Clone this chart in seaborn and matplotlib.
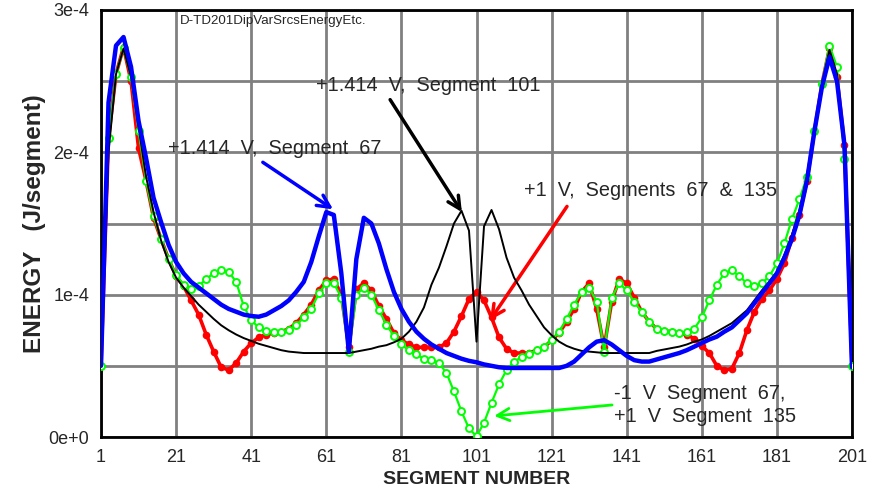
import numpy as np
import pandas as pd
import matplotlib
matplotlib.use("Agg")
import matplotlib.pyplot as plt
import seaborn as sns

# ---------------- data (energy in units of 1e-5 J/segment) ----------------
segments = list(range(1, 202, 2))

black_src101 = [5.0, 20.0, 25.5, 27.3, 25.3, 21.8, 18.3, 15.8, 13.8, 12.3,
                11.2, 10.5, 9.9, 9.3, 8.8, 8.3, 7.85, 7.5, 7.2, 6.95,
                6.75, 6.55, 6.4, 6.25, 6.1, 6.0, 5.95, 5.9, 5.9, 5.9,
                5.9, 5.9, 5.9, 5.9, 6.0, 6.1, 6.2, 6.35, 6.45, 6.65,
                6.9, 7.4, 8.1, 9.1, 10.7, 11.9, 13.4, 15.0, 15.9, 14.5,
                6.7, 14.8, 15.95, 14.6, 12.6, 11.2, 10.3, 9.3, 8.5, 7.7,
                7.15, 6.7, 6.4, 6.2, 6.05, 6.0, 5.95, 5.9, 5.9, 5.9,
                5.9, 5.9, 5.9, 5.9, 6.05, 6.15, 6.25, 6.35, 6.5, 6.7,
                6.85, 7.1, 7.4, 7.7, 8.0, 8.45, 8.9, 9.6, 10.3, 10.9,
                11.6, 12.8, 14.2, 15.9, 18.3, 21.5, 24.8, 27.2, 25.5, 20.0,
                5.0]

blue_src67 = [5.0, 23.5, 27.5, 28.1, 26.0, 22.2, 19.6, 16.8, 15.1, 13.5,
              12.3, 11.5, 10.9, 10.5, 10.1, 9.7, 9.3, 9.0, 8.8, 8.6,
              8.5, 8.45, 8.6, 8.9, 9.2, 9.6, 10.2, 10.9, 12.3, 14.1,
              15.8, 15.6, 11.5, 6.0, 12.5, 15.4, 15.0, 13.6, 11.8, 10.2,
              9.0, 8.1, 7.4, 6.9, 6.5, 6.2, 5.9, 5.7, 5.5, 5.35,
              5.25, 5.1, 5.0, 4.9, 4.85, 4.85, 4.85, 4.85, 4.85, 4.85,
              4.85, 4.85, 5.0, 5.3, 5.8, 6.3, 6.7, 6.8, 6.5, 6.1,
              5.7, 5.4, 5.3, 5.3, 5.45, 5.6, 5.75, 5.9, 6.1, 6.35,
              6.6, 6.85, 7.05, 7.4, 7.7, 8.2, 8.7, 9.4, 10.1, 10.8,
              11.5, 12.6, 13.9, 15.6, 18.0, 21.5, 24.6, 26.7, 25.0, 20.5,
              4.9]

red_src67_135 = [5.0, 21.0, 25.5, 27.4, 25.0, 20.3, 18.0, 15.4, 13.9, 12.5,
                 11.3, 10.6, 9.6, 8.6, 7.2, 6.0, 4.9, 4.7, 5.2, 6.0,
                 6.6, 7.0, 7.2, 7.3, 7.4, 7.6, 8.0, 8.6, 9.3, 10.3,
                 11.0, 11.1, 10.0, 6.3, 10.4, 10.8, 10.3, 9.2, 8.3, 7.3,
                 6.8, 6.5, 6.3, 6.3, 6.3, 6.3, 6.6, 7.4, 8.5, 9.7,
                 10.2, 9.6, 8.4, 7.0, 6.2, 5.9, 5.9, 5.9, 6.1, 6.3,
                 6.8, 7.3, 8.1, 9.0, 10.2, 10.8, 9.0, 6.3, 9.5, 11.1,
                 10.8, 9.8, 8.8, 8.1, 7.6, 7.45, 7.4, 7.3, 7.2, 6.9,
                 6.4, 5.9, 5.0, 4.7, 4.8, 5.9, 7.5, 8.8, 9.7, 10.3,
                 11.1, 12.2, 14.0, 15.6, 18.0, 21.5, 24.8, 27.3, 25.3, 20.5,
                 5.0]

green_m67_p135 = [5.0, 21.0, 25.5, 27.3, 25.3, 21.5, 18.0, 15.5, 13.9, 12.5,
                  11.4, 10.7, 10.4, 10.6, 11.1, 11.5, 11.7, 11.6, 10.9, 9.2,
                  8.2, 7.7, 7.45, 7.4, 7.4, 7.5, 7.85, 8.4, 9.0, 10.1,
                  10.8, 10.8, 9.8, 6.0, 10.0, 10.5, 10.0, 8.9, 7.9, 7.1,
                  6.5, 6.1, 5.8, 5.5, 5.4, 5.2, 4.5, 3.2, 1.8, 0.6,
                  0.05, 1.0, 2.4, 3.7, 4.7, 5.3, 5.6, 5.85, 6.1, 6.35,
                  6.8, 7.4, 8.3, 9.3, 10.2, 10.5, 9.5, 6.0, 9.8, 10.8,
                  10.3, 9.5, 8.8, 8.1, 7.6, 7.45, 7.4, 7.3, 7.4, 7.6,
                  8.4, 9.6, 10.7, 11.5, 11.7, 11.3, 10.8, 10.6, 10.8, 11.3,
                  12.2, 13.6, 15.3, 16.7, 18.3, 21.5, 24.8, 27.5, 26.0, 19.5,
                  5.0]

x_ticks = list(range(1, 202, 20))
y_tick_values = [0, 1e-4, 2e-4, 3e-4]
y_tick_labels = ["0e+0", "1e-4", "2e-4", "3e-4"]

scale = 1e-5
df = pd.DataFrame({
    "segment": segments,
    "black": np.array(black_src101) * scale,
    "blue": np.array(blue_src67) * scale,
    "red": np.array(red_src67_135) * scale,
    "green": np.array(green_m67_p135) * scale,
})

# ---------------- plot ----------------
sns.set_style("white")
plt.rcParams["font.family"] = ["Liberation Sans", "DejaVu Sans"]

fig = plt.figure(figsize=(8.69, 4.95), dpi=100)
ax = fig.add_axes([101 / 869, 58 / 495, 751 / 869, 427 / 495])

sns.lineplot(data=df, x="segment", y="red", ax=ax, color="#ff0000", lw=2.6,
             marker="o", markersize=5.5, markeredgewidth=0, markerfacecolor="#ff0000", zorder=3)
sns.lineplot(data=df, x="segment", y="green", ax=ax, color="#00ff00", lw=1.6,
             marker="o", markersize=5, markeredgewidth=1.4, markerfacecolor="white",
             markeredgecolor="#00ff00", zorder=4)
sns.lineplot(data=df, x="segment", y="black", ax=ax, color="black", lw=1.4, zorder=5)
sns.lineplot(data=df, x="segment", y="blue", ax=ax, color="#0000ff", lw=3.2, zorder=6)

ax.set_xlim(1, 201)
ax.set_ylim(0, 3e-4)
ax.set_xticks(x_ticks)
ax.set_xticklabels([str(t) for t in x_ticks], fontsize=13)
ax.set_xticks(list(range(11, 201, 20)), minor=True)
ax.set_yticks(y_tick_values)
ax.set_yticklabels(y_tick_labels, fontsize=13)
ax.set_yticks([0.5e-4, 1.5e-4, 2.5e-4], minor=True)

ax.grid(True, which="major", color="#808080", lw=2)
ax.grid(True, which="minor", axis="y", color="#808080", lw=2)
ax.set_axisbelow(True)
ax.tick_params(which="both", direction="out", length=5, width=1.5, color="black")
ax.tick_params(axis="x", which="minor", length=4)
for sp in ax.spines.values():
    sp.set_linewidth(2)
    sp.set_color("black")

ax.set_xlabel("SEGMENT NUMBER", fontsize=14, fontweight="bold", labelpad=4)
ax.set_ylabel("ENERGY   (J/segment)", fontsize=17.5, fontweight="bold", labelpad=2)

ax.text(22, 2.92e-4, "D-TD201DipVarSrcsEnergyEtc.", fontsize=9.6, va="center", ha="left")

fs = 14.3
arrow_kw = dict(arrowstyle="->", mutation_scale=22, shrinkA=0, shrinkB=0)
ax.text(58.3, 2.47e-4, "+1.414  V,  Segment  101", fontsize=fs, va="center", ha="left")
ax.annotate("", xy=(97.1, 1.58e-4), xytext=(78.0, 2.37e-4),
            arrowprops=dict(color="black", lw=2.5, **arrow_kw))

ax.text(18.8, 2.03e-4, "+1.414  V,  Segment  67", fontsize=fs, va="center", ha="left")
ax.annotate("", xy=(62.8, 1.60e-4), xytext=(44.1, 1.93e-4),
            arrowprops=dict(color="#0000ff", lw=2.5, **arrow_kw))

ax.text(113.6, 1.735e-4, "+1  V,  Segments  67  &  135", fontsize=fs, va="center", ha="left")
ax.annotate("", xy=(104.6, 0.82e-4), xytext=(125.1, 1.62e-4),
            arrowprops=dict(color="#ff0000", lw=2.5, **arrow_kw))

ax.text(137.6, 0.225e-4, "-1  V  Segment  67,\n+1  V  Segment  135", fontsize=fs,
        va="center", ha="left", linespacing=1.25)
ax.annotate("", xy=(105.7, 0.148e-4), xytext=(137.1, 0.225e-4),
            arrowprops=dict(color="#00ff00", lw=2.0, **arrow_kw))

fig.savefig("out.png", dpi=100)
